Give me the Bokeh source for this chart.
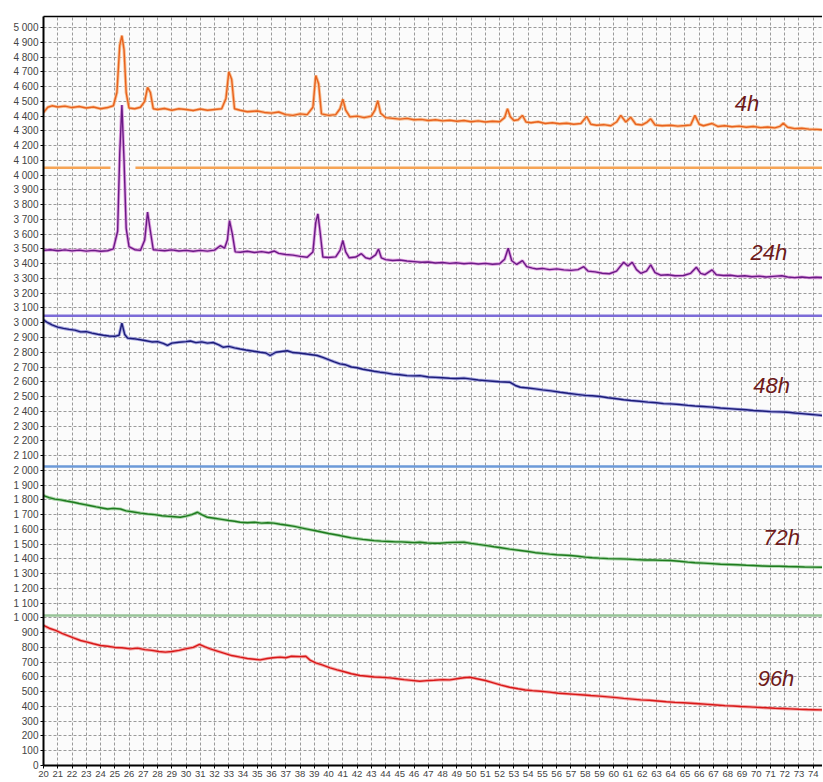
from bokeh.plotting import figure
from bokeh.models import Range1d, FixedTicker, LinearAxis, Label, ColumnDataSource
from bokeh.embed import file_html
from bokeh.resources import INLINE

# ---------------- data ----------------
x_4h = [20.0, 20.3, 20.6, 21.0, 21.5, 22.0, 22.5, 23.0, 23.5, 24.0, 24.5, 24.9, 25.15, 25.35, 25.5, 25.65, 25.8,
        26.0, 26.4, 26.8, 27.1, 27.3, 27.5, 27.7, 28.0, 28.5, 29.0, 29.5, 30.0, 30.5, 31.0, 31.5, 32.0, 32.5,
        32.8, 33.0, 33.2, 33.4, 33.8, 34.3, 35.0, 35.5, 36.0, 36.5, 37.0, 37.5, 38.0, 38.5, 38.9, 39.1, 39.3,
        39.5, 40.0, 40.5, 40.8, 41.0, 41.2, 41.5, 42.0, 42.5, 43.0, 43.25, 43.45, 43.65, 44.0, 44.5, 45.0, 45.5,
        46.0, 46.5, 47.0, 47.5, 48.0, 48.5, 49.0, 49.5, 50.0, 50.5, 51.0, 51.5, 52.0, 52.35, 52.55, 52.75, 53.0,
        53.3, 53.6, 53.85, 54.2, 54.7, 55.2, 55.7, 56.2, 56.7, 57.2, 57.7, 58.1, 58.4, 58.8, 59.3, 59.8, 60.2,
        60.5, 60.85, 61.2, 61.55, 62.0, 62.35, 62.6, 62.9, 63.4, 64.0, 64.5, 65.0, 65.4, 65.7, 66.0, 66.3, 66.9,
        67.3, 67.8, 68.3, 68.8, 69.3, 69.8, 70.3, 70.8, 71.3, 71.65, 71.9, 72.2, 72.7, 73.2, 73.7, 74.2, 74.7]
y_4h = [4425, 4460, 4470, 4462, 4468, 4458, 4465, 4455, 4462, 4450, 4458, 4470, 4560, 4880, 4945, 4850, 4560,
        4455, 4450, 4460, 4500, 4595, 4560, 4450, 4445, 4452, 4440, 4450, 4445, 4438, 4448, 4440, 4445, 4450,
        4520, 4700, 4650, 4450, 4440, 4430, 4435, 4425, 4420, 4428, 4410, 4405, 4415, 4410, 4460, 4675, 4620,
        4415, 4405, 4410, 4450, 4515, 4440, 4395, 4400, 4390, 4400, 4440, 4505, 4420, 4390, 4385, 4380, 4385,
        4375, 4378, 4370, 4375, 4368, 4372, 4365, 4370, 4362, 4368, 4360, 4365, 4362, 4390, 4450, 4395, 4370,
        4375, 4405, 4360, 4355, 4362, 4350, 4355, 4348, 4352, 4345, 4350, 4398, 4345, 4338, 4342, 4335, 4360,
        4405, 4360, 4392, 4345, 4340, 4360, 4382, 4340, 4335, 4338, 4332, 4336, 4340, 4405, 4345, 4335, 4350,
        4330, 4335, 4328, 4332, 4325, 4330, 4322, 4326, 4320, 4330, 4352, 4325, 4315, 4318, 4312, 4310, 4307]

x_24h = [20.0, 20.5, 21.0, 21.5, 22.0, 22.5, 23.0, 23.5, 24.0, 24.5, 24.9, 25.2, 25.35, 25.5, 25.65, 25.8, 26.0,
         26.4, 26.8, 27.1, 27.3, 27.5, 27.7, 28.0, 28.5, 29.0, 29.5, 30.0, 30.5, 31.0, 31.5, 32.0, 32.4, 32.7,
         32.9, 33.05, 33.25, 33.45, 33.8, 34.3, 34.8, 35.3, 35.8, 36.2, 36.5, 37.0, 37.5, 38.0, 38.5, 38.9, 39.1,
         39.25, 39.4, 39.6, 40.0, 40.5, 40.8, 41.0, 41.2, 41.45, 41.9, 42.3, 42.6, 42.9, 43.3, 43.5, 43.7, 44.0,
         44.5, 45.0, 45.5, 46.0, 46.5, 47.0, 47.5, 48.0, 48.5, 49.0, 49.5, 50.0, 50.5, 51.0, 51.5, 52.0, 52.35,
         52.6, 52.85, 53.2, 53.6, 53.9, 54.3, 54.6, 55.0, 55.5, 56.0, 56.5, 57.0, 57.5, 57.9, 58.2, 58.7, 59.2,
         59.7, 60.2, 60.7, 61.0, 61.3, 61.6, 61.9, 62.3, 62.6, 62.9, 63.3, 63.8, 64.3, 64.9, 65.4, 65.8, 66.1,
         66.4, 66.9, 67.2, 67.7, 68.2, 68.7, 69.2, 69.7, 70.2, 70.7, 71.2, 71.8, 72.2, 72.7, 73.2, 73.7, 74.2, 74.7]
y_24h = [3490, 3495, 3488, 3494, 3487, 3492, 3485, 3490, 3484, 3488, 3500, 3620, 4150, 4475, 4100, 3640, 3515,
         3495, 3490, 3560, 3750, 3620, 3495, 3492, 3488, 3494, 3486, 3490, 3484, 3490, 3485, 3492, 3522, 3505,
         3560, 3692, 3600, 3480, 3478, 3484, 3476, 3482, 3474, 3486, 3470, 3462, 3458, 3450, 3444, 3480, 3680,
         3738, 3620, 3445, 3442, 3446, 3490, 3557, 3480, 3440, 3445, 3468, 3440, 3433, 3460, 3500, 3440, 3428,
         3422, 3425, 3418, 3414, 3410, 3412, 3405, 3408, 3402, 3406, 3400, 3404, 3398, 3402, 3396, 3400, 3430,
         3505, 3420, 3395, 3421, 3380, 3370, 3364, 3368, 3360, 3365, 3358, 3355, 3360, 3380, 3350, 3345, 3335,
         3332, 3350, 3410, 3385, 3410, 3360, 3335, 3350, 3392, 3340, 3322, 3325, 3318, 3320, 3335, 3376, 3335,
         3326, 3358, 3325, 3320, 3322, 3315, 3318, 3312, 3316, 3310, 3314, 3318, 3310, 3306, 3310, 3305, 3308, 3306]

x_48h = [20.0, 20.3, 20.6, 21.0, 21.4, 21.8, 22.2, 22.6, 23.0, 23.4, 23.8, 24.2, 24.6, 25.0, 25.3, 25.5, 25.7,
         25.9, 26.3, 26.8, 27.2, 27.6, 28.0, 28.4, 28.7, 29.0, 29.5, 30.0, 30.3, 30.7, 31.1, 31.5, 31.9, 32.3,
         32.6, 33.0, 33.4, 33.8, 34.2, 34.75, 35.2, 35.6, 35.9, 36.3, 36.7, 37.1, 37.5, 37.9, 38.3, 38.7, 39.2,
         39.6, 40.0, 40.4, 40.8, 41.2, 41.6, 42.0, 42.4, 42.8, 43.2, 43.6, 44.0, 44.5, 45.0, 45.5, 46.0, 46.4,
         47.0, 47.5, 48.0, 48.5, 49.0, 49.5, 49.9, 50.5, 51.0, 51.5, 52.0, 52.7, 53.1, 53.45, 54.0, 54.5, 55.0,
         55.6, 56.25, 56.8, 57.4, 58.0, 58.5, 59.06, 59.6, 60.2, 60.7, 61.2, 61.8, 62.4, 63.0, 63.5, 64.0, 64.6,
         65.2, 65.7, 66.3, 66.9, 67.5, 68.1, 68.7, 69.3, 69.8, 70.4, 71.0, 71.6, 72.15, 72.7, 73.2, 73.7, 74.2, 74.7]
y_48h = [3019, 3000, 2985, 2970, 2962, 2955, 2950, 2938, 2940, 2930, 2922, 2915, 2910, 2908, 2915, 2997, 2920,
         2896, 2892, 2885, 2878, 2870, 2872, 2860, 2846, 2862, 2868, 2872, 2876, 2865, 2870, 2862, 2866, 2850,
         2834, 2840, 2830, 2822, 2815, 2807, 2800, 2795, 2778, 2800, 2805, 2810, 2798, 2795, 2790, 2785, 2778,
         2765, 2750, 2735, 2721, 2715, 2700, 2695, 2685, 2678, 2671, 2665, 2660, 2652, 2648, 2642, 2640, 2642,
         2632, 2630, 2627, 2624, 2622, 2625, 2620, 2612, 2608, 2604, 2600, 2597, 2575, 2563, 2558, 2552, 2545,
         2538, 2529, 2522, 2515, 2508, 2505, 2500, 2492, 2485, 2478, 2473, 2468, 2462, 2458, 2452, 2450, 2446,
         2440, 2436, 2432, 2428, 2422, 2418, 2414, 2410, 2405, 2402, 2398, 2396, 2394, 2388, 2384, 2380, 2376, 2371]

x_72h = [20.0, 20.4, 20.8, 21.2, 21.6, 22.1, 22.5, 22.9, 23.3, 23.7, 24.1, 24.5, 24.9, 25.4, 25.8, 26.3, 26.8,
         27.3, 27.8, 28.3, 28.8, 29.2, 29.6, 30.0, 30.4, 30.8, 31.1, 31.5, 32.0, 32.5, 33.0, 33.4, 33.8, 34.3,
         34.8, 35.3, 35.7, 36.15, 36.6, 37.1, 37.6, 38.0, 38.5, 39.0, 39.5, 40.0, 40.4, 40.8, 41.2, 41.6, 42.0,
         42.4, 42.8, 43.2, 43.7, 44.2, 44.7, 45.1, 45.5, 46.0, 46.4, 46.9, 47.4, 47.8, 48.3, 48.8, 49.5, 50.0,
         50.5, 51.1, 51.6, 52.1, 52.7, 53.45, 54.0, 54.5, 55.0, 55.5, 56.0, 56.96, 57.5, 58.0, 58.5, 59.0, 59.6,
         60.5, 61.0, 61.6, 62.2, 62.8, 63.4, 64.0, 64.6, 65.2, 65.7, 66.3, 66.9, 67.5, 68.1, 68.7, 69.3, 69.8,
         70.4, 71.0, 71.6, 72.2, 72.8, 73.4, 74.0, 74.7]
y_72h = [1829, 1815, 1805, 1800, 1792, 1784, 1775, 1768, 1760, 1752, 1745, 1738, 1742, 1738, 1725, 1718, 1710,
         1704, 1700, 1692, 1688, 1685, 1682, 1690, 1700, 1716, 1700, 1682, 1675, 1668, 1660, 1655, 1648, 1645,
         1648, 1642, 1645, 1642, 1635, 1628, 1620, 1612, 1602, 1592, 1582, 1572, 1565, 1558, 1550, 1542, 1537,
         1532, 1528, 1524, 1520, 1518, 1515, 1515, 1513, 1510, 1513, 1508, 1506, 1506, 1510, 1512, 1513, 1505,
         1498, 1490, 1482, 1475, 1466, 1457, 1450, 1442, 1437, 1432, 1428, 1423, 1418, 1412, 1408, 1405, 1402,
         1400, 1398, 1395, 1392, 1392, 1390, 1389, 1384, 1378, 1374, 1371, 1368, 1364, 1362, 1360, 1357, 1355,
         1352, 1350, 1350, 1348, 1347, 1345, 1344, 1343]

x_96h = [20.0, 20.4, 20.85, 21.3, 21.7, 22.1, 22.6, 23.0, 23.5, 24.0, 24.5, 25.0, 25.5, 26.1, 26.6, 27.1, 27.6,
         28.1, 28.55, 29.0, 29.5, 29.96, 30.5, 30.94, 31.3, 31.7, 32.2, 32.7, 33.2, 33.8, 34.3, 34.8, 35.2, 35.7,
         36.1, 36.6, 37.0, 37.4, 38.0, 38.4, 38.7, 39.1, 39.6, 40.1, 40.6, 41.1, 41.6, 42.2, 42.7, 43.2, 43.8,
         44.3, 44.8, 45.3, 45.8, 46.4, 46.9, 47.4, 48.0, 48.5, 49.0, 49.5, 49.9, 50.4, 51.0, 51.5, 52.1, 52.7,
         53.3, 53.8, 54.3, 54.85, 55.5, 56.1, 56.7, 57.3, 57.9, 58.4, 59.0, 59.6, 60.2, 60.7, 61.3, 61.9, 62.5,
         63.1, 63.7, 64.3, 64.9, 65.4, 66.0, 66.6, 67.2, 67.8, 68.4, 68.9, 69.5, 70.1, 70.7, 71.3, 71.9, 72.4,
         73.0, 73.6, 74.1, 74.7]
y_96h = [949, 930, 915, 895, 880, 865, 847, 838, 825, 813, 808, 800, 798, 790, 795, 785, 780,
         772, 768, 772, 780, 790, 800, 820, 805, 790, 775, 760, 745, 734, 725, 720, 716, 725,
         730, 734, 730, 740, 738, 740, 714, 695, 680, 662, 648, 635, 622, 610, 605, 600, 597,
         594, 588, 582, 577, 571, 575, 578, 582, 580, 588, 595, 598, 588, 576, 562, 545, 530,
         520, 512, 507, 503, 497, 490, 486, 482, 478, 474, 470, 465, 460, 455, 450, 445, 442,
         437, 432, 428, 425, 422, 418, 414, 410, 406, 403, 400, 397, 394, 391, 388, 386, 384,
         381, 379, 378, 377]

series_names = ["4h", "24h", "48h", "72h", "96h"]
series_x = [x_4h, x_24h, x_48h, x_72h, x_96h]
series_y = [y_4h, y_24h, y_48h, y_72h, y_96h]
series_color = ["#e8621e", "#6a1a86", "#1c1c78", "#1e7a1e", "#d81818"]
series_halo = ["#f8b27a", "#d98ad9", "#8a8ad6", "#8cc88c", "#f29090"]

label_x = [68.5, 69.6, 69.8, 70.5, 70.1]
label_y = [4400, 3388, 2493, 1457, 508]

ref_x0 = [20.0, 26.45, 20.0, 20.0, 20.0]
ref_x1 = [24.7, 74.7, 74.7, 74.7, 74.7]
ref_y = [4050, 4050, 3048, 2026, 1016]
ref_color = ["#f6a455", "#f6a455", "#7c6cd8", "#6c9ad8", "#98c498"]

x_ticks = list(range(20, 75))
y_ticks = list(range(0, 5001, 100))
y_tick_labels = {v: f"{v:,}".replace(",", " ") for v in y_ticks}

# ---------------- figure ----------------
p = figure(width=822, height=780, output_backend="svg", toolbar_location=None,
           x_range=Range1d(20, 74.65), y_range=Range1d(0, 5075),
           min_border_left=43, min_border_right=0, min_border_top=16, min_border_bottom=15,
           background_fill_color="#fbfbfb", border_fill_color="white")
p.outline_line_color = None

for ax, ticks in ((p.xaxis, x_ticks), (p.yaxis, y_ticks)):
    ax.ticker = FixedTicker(ticks=ticks)
    ax.axis_line_color = "black"
    ax.axis_line_width = 2
    ax.major_tick_line_color = "black"
    ax.major_tick_out = 3
    ax.major_tick_in = 0
    ax.minor_tick_line_color = None
    ax.major_label_text_font = "Liberation Sans"
    ax.major_label_text_font_size = "9.5px"
    ax.major_label_text_color = "#444444"
    ax.major_label_standoff = 2
p.yaxis.major_label_text_font_size = "10px"
p.yaxis.major_label_overrides = y_tick_labels

top = LinearAxis(ticker=FixedTicker(ticks=[]), major_label_text_font_size="0px",
                 axis_line_color="black", axis_line_width=1.5,
                 major_tick_line_color=None, minor_tick_line_color=None)
p.add_layout(top, "above")

p.xgrid.ticker = FixedTicker(ticks=x_ticks)
p.ygrid.ticker = FixedTicker(ticks=y_ticks)
for g in (p.xgrid, p.ygrid):
    g.grid_line_color = "#9a9a9a"
    g.grid_line_dash = "3 2"
    g.grid_line_width = 1

p.segment(x0=ref_x0, x1=ref_x1, y0=ref_y, y1=ref_y, line_color=ref_color, line_width=2.5)

for xs, ys, c, h in zip(series_x, series_y, series_color, series_halo):
    src = ColumnDataSource(dict(x=xs, y=ys))
    p.line("x", "y", source=src, line_color=h, line_width=3.2, line_alpha=0.8)
    p.line("x", "y", source=src, line_color=c, line_width=1.4)

for name, lx, ly in zip(series_names, label_x, label_y):
    p.add_layout(Label(x=lx, y=ly, text=name, text_font="Liberation Sans",
                       text_font_style="italic", text_font_size="22px",
                       text_color="#6e1a1a"))

open("out.html", "w").write(file_html(p, INLINE))
